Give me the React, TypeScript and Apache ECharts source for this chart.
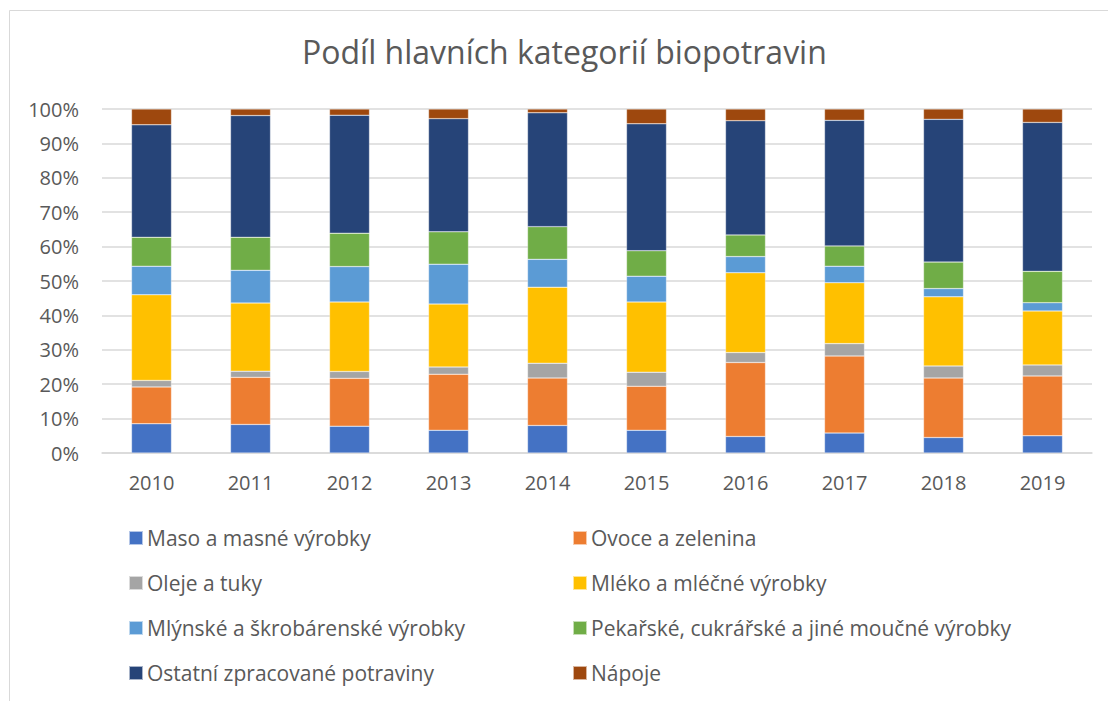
import React, { useEffect, useRef } from "react";
import * as echarts from "echarts";

const years = ["2010", "2011", "2012", "2013", "2014", "2015", "2016", "2017", "2018", "2019"];

const seriesNames = [
  "Maso a masné výrobky",
  "Ovoce a zelenina",
  "Oleje a tuky",
  "Mléko a mléčné výrobky",
  "Mlýnské a škrobárenské výrobky",
  "Pekařské, cukrářské a jiné moučné výrobky",
  "Ostatní zpracované potraviny",
  "Nápoje",
];

const maso = [8.5, 8.3, 7.8, 6.6, 8.0, 6.6, 4.8, 5.8, 4.5, 5.0];
const ovoce = [10.7, 13.7, 13.9, 16.3, 13.8, 12.8, 21.5, 22.4, 17.3, 17.4];
const oleje = [1.9, 1.8, 2.0, 2.1, 4.3, 4.1, 2.9, 3.6, 3.5, 3.2];
const mleko = [24.9, 19.8, 20.2, 18.3, 22.1, 20.4, 23.2, 17.7, 20.1, 15.7];
const mlynske = [8.3, 9.5, 10.3, 11.6, 8.1, 7.5, 4.7, 4.8, 2.4, 2.4];
const pekarske = [8.4, 9.6, 9.7, 9.4, 9.5, 7.4, 6.3, 5.9, 7.7, 9.1];
const ostatni = [32.7, 35.4, 34.3, 32.9, 33.1, 36.9, 33.2, 36.5, 41.5, 43.3];
const napoje = [4.6, 1.9, 1.8, 2.8, 1.1, 4.3, 3.4, 3.3, 3.0, 3.9];

const seriesData = [maso, ovoce, oleje, mleko, mlynske, pekarske, ostatni, napoje];
const colors = ["#4472C4", "#ED7D31", "#A5A5A5", "#FFC000", "#5B9BD5", "#70AD47", "#264478", "#9E480E"];

const FONT = "'Open Sans', 'Noto Sans', sans-serif";
const TEXT = "#595959";

export default function App() {
  const ref = useRef<HTMLDivElement>(null);
  useEffect(() => {
    document.body.style.margin = "0";
    if (!ref.current) return;
    const chart = echarts.init(ref.current, null, { renderer: "svg" });
    const legendStyle = {
      orient: "vertical" as const,
      top: 526,
      itemWidth: 14,
      itemHeight: 14,
      itemGap: 21,
      icon: "rect",
      textStyle: { fontFamily: FONT, fontSize: 21, color: TEXT, lineHeight: 24, padding: [0, 0, 0, -1] },
      padding: 0,
    };
    chart.setOption({
      animation: false,
      backgroundColor: "#fff",
      title: {
        text: "Podíl hlavních kategorií biopotravin",
        left: 302,
        top: 35,
        padding: 0,
        textStyle: { fontFamily: FONT, fontSize: 32, fontWeight: "normal", color: TEXT },
      },
      graphic: [
        {
          type: "rect",
          shape: { x: 9.5, y: 10.5, width: 1300, height: 900 },
          style: { fill: "none", stroke: "#d9d9d9", lineWidth: 1 },
          silent: true,
        },
      ],
      legend: [
        { ...legendStyle, left: 128, data: [seriesNames[0], seriesNames[2], seriesNames[4], seriesNames[6]] },
        { ...legendStyle, left: 572, data: [seriesNames[1], seriesNames[3], seriesNames[5], seriesNames[7]] },
      ],
      grid: { left: 102, right: 16, top: 109, bottom: 248, containLabel: false },
      xAxis: {
        type: "category",
        data: years,
        axisTick: { show: false },
        axisLine: { lineStyle: { color: "#d9d9d9", width: 1.5 } },
        axisLabel: { fontFamily: FONT, fontSize: 20, color: TEXT, margin: 19 },
      },
      yAxis: {
        type: "value",
        min: 0,
        max: 100,
        interval: 10,
        axisLine: { show: false },
        axisTick: { show: false },
        splitLine: { lineStyle: { color: "#d9d9d9", width: 1.5 } },
        axisLabel: { fontFamily: FONT, fontSize: 20, color: TEXT, margin: 23, formatter: "{value}%" },
      },
      series: seriesNames.map((name, i) => ({
        name,
        type: "bar",
        stack: "total",
        barWidth: 40,
        data: seriesData[i],
        itemStyle: { color: colors[i], borderColor: "rgba(255,255,255,0.6)", borderWidth: 0.5 },
      })),
    });
    return () => chart.dispose();
  }, []);
  return <div ref={ref} style={{ width: 1108, height: 701 }} />;
}
